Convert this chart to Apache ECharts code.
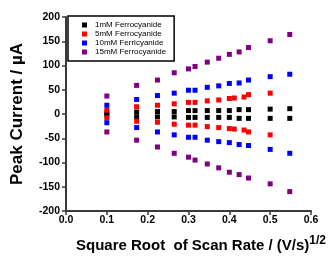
<!DOCTYPE html>
<html>
<head>
<meta charset="utf-8">
<script src="https://cdn.jsdelivr.net/npm/echarts@6/dist/echarts.min.js"></script>
<style>
  html, body { margin: 0; padding: 0; background: #fff; }
  #chart { width: 331px; height: 257px; }
</style>
</head>
<body>
<div id="chart"></div>
<script>
// x positions: square root of scan rate
const xRoot = [0.1, 0.173, 0.224, 0.265, 0.3, 0.316, 0.346, 0.374, 0.4, 0.424, 0.447, 0.5, 0.548]
const xRootRed = [0.1, 0.173, 0.224, 0.265, 0.3, 0.316, 0.346, 0.374, 0.4, 0.412, 0.436, 0.447, 0.5]

// peak currents (µA), anodic (up) and cathodic (down)
const black1Up = [2, 4, 5, 5, 7, 7, 7, 7, 7, 9, 9, 10, 11]
const black1Down = [-2, -6, -6, -6, -7, -7, -7, -7, -7, -9, -9, -9, -9]
const red5Up = [8, 15, 18, 21, 24, 24, 27, 29, 32, 33, 35, 40, 43]
const red5Down = [-8, -15, -17, -21, -23, -23, -26, -28, -30, -31, -33, -37, -43]
const blue10Up = [18, 30, 38, 43, 49, 49, 55, 58, 63, 64, 70, 77, 82]
const blue10Down = [-18, -28, -37, -43, -48, -48, -54, -57, -59, -63, -65, -73, -81]
const purple15Up = [37, 59, 70, 85, 93, 98, 107, 115, 123, 128, 137, 151, 164]
const purple15Down = [-37, -54, -68, -81, -89, -95, -103, -111, -120, -125, -132, -144, -160]

const seriesNames = ['1mM Ferrocyanide', '5mM Ferrocyanide', '10mM Ferricyanide', '15mM Ferrocyanide']
const seriesColors = ['#000000', '#ff0000', '#0000ff', '#800080']
const xTicks = ['0.0', '0.1', '0.2', '0.3', '0.4', '0.5', '0.6']

function pairs (xs, up, down) {
  const out = []
  xs.forEach((x, i) => {
    out.push([x, up[i]])
    out.push([x, down[i]])
  })
  return out
}

const dataSets = [
  pairs(xRoot, black1Up, black1Down),
  pairs(xRootRed, red5Up, red5Down),
  pairs(xRoot, blue10Up, blue10Down),
  pairs(xRoot, purple15Up, purple15Down)
]

const font = 'Liberation Sans, Arial, sans-serif'
const axisColor = '#3a3a3a'

const chart = echarts.init(document.getElementById('chart'))
chart.setOption({
  animation: false,
  grid: { left: 66, right: 20, top: 17, bottom: 46, containLabel: false, outerBoundsMode: 'none' },
  legend: {
    orient: 'vertical',
    left: 68,
    top: 16,
    padding: [5, 8, 5, 14],
    itemGap: 1,
    itemWidth: 5,
    itemHeight: 5,
    icon: 'rect',
    borderColor: '#000',
    borderWidth: 1.5,
    textStyle: { fontFamily: font, fontSize: 8, color: '#000', padding: [0, 0, 0, 3] },
    data: seriesNames
  },
  xAxis: {
    type: 'value',
    min: 0,
    max: 0.6,
    interval: 0.1,
    splitLine: { show: false },
    axisLine: { onZero: false, lineStyle: { color: axisColor, width: 2 } },
    axisTick: { length: 4, lineStyle: { color: axisColor, width: 1.5 } },
    axisLabel: {
      margin: 4,
      fontFamily: font,
      fontWeight: 'bold',
      fontSize: 10.5,
      color: '#000',
      formatter: (v) => xTicks[Math.round(v * 10)]
    },
    name: '{a|Square Root  of Scan Rate / (V/s)}{b|1/2}',
    nameLocation: 'middle',
    nameGap: 24,
    nameTextStyle: {
      padding: [0, 0, 0, 25],
      rich: {
        a: { fontFamily: font, fontWeight: 'bold', fontSize: 15, color: '#000' },
        b: { fontFamily: font, fontWeight: 'bold', fontSize: 12, color: '#000', padding: [0, 0, 10, 0] }
      }
    }
  },
  yAxis: {
    type: 'value',
    min: -200,
    max: 200,
    interval: 50,
    splitLine: { show: false },
    axisLine: { onZero: false, lineStyle: { color: axisColor, width: 2 } },
    axisTick: { length: 4, lineStyle: { color: axisColor, width: 1.5 } },
    axisLabel: {
      margin: 6,
      fontFamily: font,
      fontWeight: 'bold',
      fontSize: 10.5,
      color: '#000'
    },
    name: 'Peak Current / µA',
    nameLocation: 'middle',
    nameGap: 40,
    nameTextStyle: { fontFamily: font, fontWeight: 'bold', fontSize: 17, color: '#000' }
  },
  series: seriesNames.map((name, i) => ({
    name: name,
    type: 'scatter',
    symbol: 'rect',
    symbolSize: 5,
    itemStyle: { color: seriesColors[i], opacity: 1 },
    data: dataSets[i]
  }))
})
</script>
</body>
</html>
